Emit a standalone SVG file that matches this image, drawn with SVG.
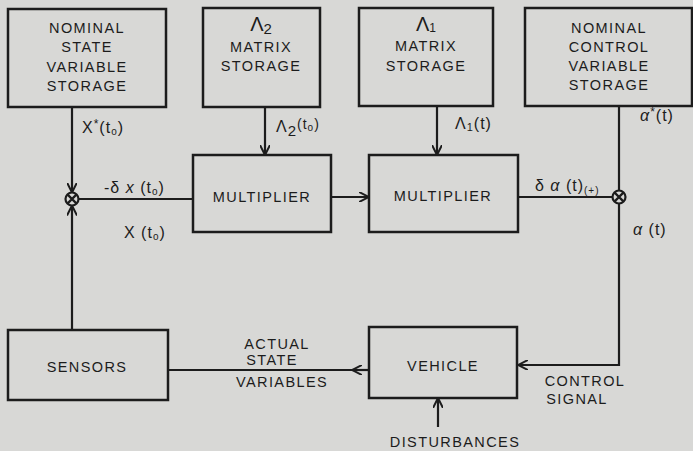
<svg xmlns="http://www.w3.org/2000/svg" width="693" height="451" viewBox="0 0 693 451">
<style>
.bg{fill:#d8d8d6}
.box{fill:#d8d8d6;stroke:#1c1c1c;stroke-width:2.5}
.ln{fill:none;stroke:#1c1c1c;stroke-width:2.2}
text{font-family:"Liberation Sans","DejaVu Sans",sans-serif;font-size:14.5px;fill:#1c1c1c;letter-spacing:1.4px;text-anchor:middle}
.lb{font-size:16px;letter-spacing:1px;text-anchor:start}
.sym{font-size:20px;letter-spacing:0}
</style>
<defs>
<marker id="ah" viewBox="0 0 10 10" refX="10" refY="5" markerWidth="10" markerHeight="10" markerUnits="userSpaceOnUse" orient="auto">
<path d="M0,0 L10,5 L0,10" fill="none" stroke="#1c1c1c" stroke-width="2"/>
</marker>
</defs>
<rect class="bg" x="0" y="0" width="693" height="451"/>

<g id="nominal-state">
<rect class="box" x="8" y="9" width="158" height="98"/>
<text x="87" y="33">NOMINAL</text>
<text x="87" y="52">STATE</text>
<text x="87" y="72">VARIABLE</text>
<text x="87" y="91">STORAGE</text>
</g>
<g id="lambda2-storage">
<rect class="box" x="203" y="8" width="117" height="99"/>
<text class="sym" x="261" y="31">Λ<tspan font-size="15" dy="3">2</tspan></text>
<text x="261" y="52">MATRIX</text>
<text x="261" y="71">STORAGE</text>
</g>
<g id="lambda1-storage">
<rect class="box" x="359" y="8" width="134" height="98"/>
<text class="sym" x="426" y="31">Λ<tspan font-size="12" dy="1">1</tspan></text>
<text x="426" y="51">MATRIX</text>
<text x="426" y="71">STORAGE</text>
</g>
<g id="nominal-control">
<rect class="box" x="525" y="8" width="167" height="98"/>
<text x="609" y="33">NOMINAL</text>
<text x="609" y="52">CONTROL</text>
<text x="609" y="71">VARIABLE</text>
<text x="609" y="90">STORAGE</text>
</g>
<g id="multiplier1">
<rect class="box" x="193" y="155" width="138" height="77"/>
<text x="262" y="202">MULTIPLIER</text>
</g>
<g id="multiplier2">
<rect class="box" x="369" y="155" width="149" height="77"/>
<text x="443" y="201">MULTIPLIER</text>
</g>
<g id="sensors">
<rect class="box" x="8" y="330" width="160" height="70"/>
<text x="87" y="372">SENSORS</text>
</g>
<g id="vehicle">
<rect class="box" x="369" y="327" width="148" height="71"/>
<text x="443" y="371">VEHICLE</text>
</g>
<g id="sum-left">
<circle class="ln" cx="72" cy="199" r="6.5"/>
<path class="ln" d="M67.4,194.4 L76.6,203.6 M76.6,194.4 L67.4,203.6" stroke-width="1.8"/>
</g>
<g id="sum-right">
<circle class="ln" cx="619" cy="197" r="6.5"/>
<path class="ln" d="M614.4,192.4 L623.6,201.6 M623.6,192.4 L614.4,201.6" stroke-width="1.8"/>
</g>

<g id="connectors">
<path class="ln" d="M72,107 L72,192.5" marker-end="url(#ah)"/>
<path class="ln" d="M72,330 L72,205.5" marker-end="url(#ah)"/>
<path class="ln" d="M78.5,199 L193,199"/>
<path class="ln" d="M265,107 L265,155" marker-end="url(#ah)"/>
<path class="ln" d="M437,106 L437,155" marker-end="url(#ah)"/>
<path class="ln" d="M331,197 L369,197" marker-end="url(#ah)"/>
<path class="ln" d="M518,197 L612.5,197"/>
<path class="ln" d="M619,106 L619,190.5"/>
<path class="ln" d="M619,203.5 L619,365 L518,365" marker-end="url(#ah)"/>
<path class="ln" d="M369,370 L168,370"/>
<path class="ln" d="M369,370 L352,370" marker-end="url(#ah)"/>
<path class="ln" d="M438,427 L438,398" marker-end="url(#ah)"/>
</g>

<g id="labels">
<text class="lb" x="82" y="133">X<tspan font-size="12" dy="-5">*</tspan><tspan dy="5">(t</tspan><tspan font-size="10" dy="2">o</tspan><tspan dy="-2">)</tspan></text>
<text class="lb" x="276" y="132" font-size="18">Λ<tspan font-size="15" dy="4">2</tspan><tspan font-size="14" dy="-7">(t</tspan><tspan font-size="10" dy="2">o</tspan><tspan font-size="14" dy="-2">)</tspan></text>
<text class="lb" x="455" y="129" font-size="18">Λ<tspan font-size="11" dy="2">1</tspan><tspan font-size="16" dy="-2">(t)</tspan></text>
<text class="lb" x="640" y="121"><tspan font-style="italic">α</tspan><tspan font-size="12" dy="-5">*</tspan><tspan dy="5">(t)</tspan></text>
<text class="lb" x="104" y="193">-δ <tspan font-style="italic">x</tspan> (t<tspan font-size="10" dy="2">o</tspan><tspan dy="-2">)</tspan></text>
<text class="lb" x="124" y="238">X (t<tspan font-size="10" dy="2">o</tspan><tspan dy="-2">)</tspan></text>
<text class="lb" x="535" y="191">δ <tspan font-style="italic">α</tspan> (t)<tspan font-size="10" dy="3">(+)</tspan></text>
<text class="lb" x="633" y="235"><tspan font-style="italic">α</tspan> (t)</text>
<text x="277" y="349">ACTUAL</text>
<text x="272" y="365">STATE</text>
<text x="282" y="387">VARIABLES</text>
<text x="585" y="386">CONTROL</text>
<text x="577" y="404">SIGNAL</text>
<text x="455" y="447">DISTURBANCES</text>
</g>
</svg>
